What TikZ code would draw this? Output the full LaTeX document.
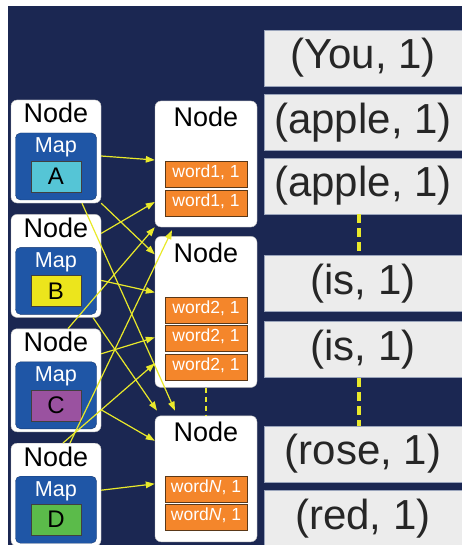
\documentclass[tikz,border=0pt]{standalone}
\usepackage{fontspec}
\setmainfont{Liberation Sans}
\usetikzlibrary{positioning,arrows.meta}

\definecolor{navy}{HTML}{1B2752}
\definecolor{mapblue}{HTML}{1F56A6}
\definecolor{mapedge}{HTML}{173A72}
\definecolor{keyA}{HTML}{55C5D6}
\definecolor{keyB}{HTML}{ECE51C}
\definecolor{keyC}{HTML}{9A52A0}
\definecolor{keyD}{HTML}{5BBB4A}
\definecolor{pairorange}{HTML}{F4862B}
\definecolor{pairedge}{HTML}{5A3818}
\definecolor{resultgray}{HTML}{ECECEC}
\definecolor{resultedge}{HTML}{9AA4BB}
\definecolor{flowyellow}{HTML}{E9E92A}

\tikzset{
  host/.style={draw=gray!50, fill=white, rounded corners=6pt, minimum width=90pt, minimum height=103pt, inner sep=0pt},
  worker/.style={host, minimum width=102pt},
  title/.style={font=\fontsize{27}{27}\selectfont, anchor=base, inner sep=0pt},
  mapbox/.style={draw=mapedge, fill=mapblue, rounded corners=5pt, minimum width=81pt, minimum height=67pt, inner sep=0pt},
  maptext/.style={text=white, font=\fontsize{21.6}{22}\selectfont, anchor=base, inner sep=0pt},
  keybox/.style={draw=black!75, minimum width=50pt, minimum height=31pt, inner sep=0pt, font=\fontsize{24}{24}\selectfont},
  pair/.style={draw=pairedge, fill=pairorange, text=white, minimum width=82pt, minimum height=26pt, inner sep=0pt, font=\fontsize{17.5}{18}\selectfont, text height=.72em, text depth=0pt},
  result/.style={draw=resultedge, fill=resultgray, minimum width=198pt, minimum height=56pt, inner sep=0pt, font=\fontsize{42}{42}\selectfont, text=black!85},
  flow/.style={draw=flowyellow, line width=1.2pt, -{Triangle[length=9pt,width=6.5pt]}},
  gap/.style={draw=flowyellow, dash pattern=on 5pt off 4pt, line width=1.3pt},
  biggap/.style={draw=flowyellow, dash pattern=on 9pt off 5pt, line width=3.5pt}
}

\begin{document}
\begin{tikzpicture}[x=1pt, y=-1pt]
\useasboundingbox (0,0) rectangle (462,545);
\clip (0,0) rectangle (462,545);
\fill[navy] (8,6) rectangle (462,545);

% map side
\node[host] (hostA) at (56,151.5) {};
\node[host, below=11pt of hostA] (hostB) {};
\node[host, below=11pt of hostB] (hostC) {};
\node[host, below=11pt of hostC] (hostD) {};

\node[title] (tA) at ([yshift=-23pt]hostA.north) {Node};
\node[title] (tB) at ([yshift=-23pt]hostB.north) {Node};
\node[title] (tC) at ([yshift=-23pt]hostC.north) {Node};
\node[title] (tD) at ([yshift=-23pt]hostD.north) {Node};

\node[mapbox] (mA) at ([yshift=-15pt]hostA.center) {};
\node[mapbox] (mB) at ([yshift=-15pt]hostB.center) {};
\node[mapbox] (mC) at ([yshift=-15pt]hostC.center) {};
\node[mapbox] (mD) at ([yshift=-15pt]hostD.center) {};

\node[maptext] (lA) at ([yshift=-20pt]mA.north) {Map};
\node[maptext] (lB) at ([yshift=-20pt]mB.north) {Map};
\node[maptext] (lC) at ([yshift=-20pt]mC.north) {Map};
\node[maptext] (lD) at ([yshift=-20pt]mD.north) {Map};

\node[keybox, fill=keyA] (kA) at ([yshift=-10pt]mA.center) {A};
\node[keybox, fill=keyB] (kB) at ([yshift=-10pt]mB.center) {B};
\node[keybox, fill=keyC] (kC) at ([yshift=-10pt]mC.center) {C};
\node[keybox, fill=keyD] (kD) at ([yshift=-10pt]mD.center) {D};

% shuffle side
\node[worker, minimum height=126pt] (w1) at (206,164) {};
\node[worker, minimum height=151pt, below=9pt of w1] (w2) {};
\node[worker, minimum height=126pt, below=28pt of w2] (wN) {};

\node[title] (t1) at ([yshift=-26pt]w1.north) {Node};
\node[title] (t2) at ([yshift=-26pt]w2.north) {Node};
\node[title] (tN) at ([yshift=-26pt]wN.north) {Node};

\node[pair] (p11) at ([yshift=-10pt]w1.center) {word1, 1};
\node[pair, below=3pt of p11] (p12) {word1, 1};
\node[pair] (p21) at ([yshift=2pt]w2.center) {word2, 1};
\node[pair, below=2pt of p21] (p22) {word2, 1};
\node[pair, below=2pt of p22] (p23) {word2, 1};
\node[pair] (pN1) at ([yshift=-10pt]wN.center) {word\textit{N}, 1};
\node[pair, below=2pt of pN1] (pN2) {word\textit{N}, 1};

\draw[gap] (w2.south) -- (wN.north);

% every map sends to every node
\path[flow] ([yshift=-4.5pt]hostA.east) -- ([yshift=4pt]w1.west);
\path[flow] (hostA.south east) -- ([yshift=57.5pt]w2.west);
\path[flow] ([xshift=26pt]hostA.south) -- ([xshift=-31pt,yshift=5pt]wN.north);
\path[flow] ([yshift=32.5pt]hostB.east) -- ([yshift=-38pt]w1.west);
\path[flow] ([yshift=-14.5pt]hostB.east) -- ([yshift=19.5pt]w2.west);
\path[flow] ([xshift=37pt]hostB.south) -- ([xshift=-49pt,yshift=5pt]wN.north);
\path[flow] ([xshift=12pt]hostC.north) -- (w1.south west);
\path[flow] ([yshift=26.5pt]hostC.east) -- ([yshift=-25.5pt]w2.west);
\path[flow] ([yshift=-29.5pt]hostC.east) -- ([yshift=38pt]wN.west);
\path[flow] ([xshift=14pt]hostD.north) -- ([xshift=-34pt,yshift=-3pt]w1.south);
\path[flow] ([xshift=7pt]hostD.north) -- ([yshift=-51.5pt]w2.west);
\path[flow] ([yshift=4.5pt]hostD.east) -- ([yshift=-5pt]wN.west);

% reduce input
\node[result] (r1) at (363,58) {(You, 1)};
\node[result, below=8pt of r1] (r2) {(apple, 1)};
\node[result, below=7pt of r2] (r3) {(apple, 1)};
\node[result, below=41pt of r3] (r4) {(is, 1)};
\node[result, below=10pt of r4] (r5) {(is, 1)};
\node[result, below=48pt of r5] (r6) {(rose, 1)};
\node[result, below=8pt of r6] (r7) {(red, 1)};

\draw[biggap] ([xshift=-4pt]r3.south) -- ([xshift=-4pt]r4.north);
\draw[biggap] ([xshift=-4pt]r5.south) -- ([xshift=-4pt]r6.north);
\end{tikzpicture}
\end{document}
